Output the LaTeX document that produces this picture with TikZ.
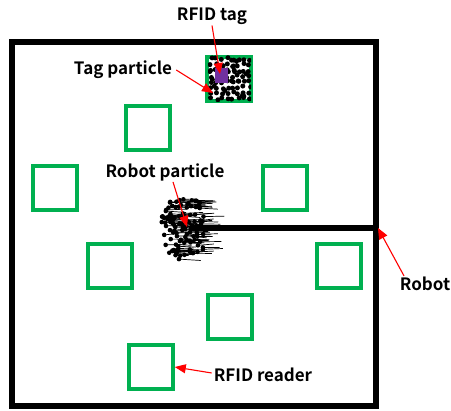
\documentclass[tikz,border=0pt]{standalone}
\usepackage{fontspec}
\setmainfont{Noto Sans CJK JP}[BoldFont={* Bold}]
\usetikzlibrary{arrows.meta,calc}
\definecolor{readergreen}{RGB}{0,176,80}
\definecolor{tagpurple}{RGB}{112,48,160}
\definecolor{arrowred}{RGB}{255,0,0}
\tikzset{
  wall/.style={line width=6pt},
  reader/.style={draw=readergreen, line width=3.5pt, minimum size=44pt, inner sep=0pt},
  lbl/.style={font=\bfseries\fontsize{17}{19}\selectfont, inner sep=1pt},
  pointer/.style={draw=arrowred, line width=1.1pt, -{Triangle[length=11pt,width=9pt]}},
  dot/.style={fill=black},
}
\begin{document}
\begin{tikzpicture}[x=1pt,y=-1pt]
\useasboundingbox (0,0) rectangle (451,411);
\fill[white] (0,0) rectangle (451,411);
% room walls
\draw[wall] (12,42) rectangle (376,406);
% RFID readers
\node[reader] (tagbox) at (229,79) {};
\node[reader] (r1) at (148,128) {};
\node[reader] (r2) at (55,188) {};
\node[reader] (r3) at (285,188) {};
\node[reader] (r4) at (110,266) {};
\node[reader] (r5) at (339,266) {};
\node[reader] (r6) at (230,317) {};
\node[reader] (r7) at (151,367) {};
% tag particles spread over the tag area (jittered grid)
\pgfmathsetseed{7}
\begin{scope}
\clip (208,56) rectangle (251,102);
\foreach \i in {0,...,7}{
  \foreach \j in {0,...,7}{
    \pgfmathsetmacro{\px}{211+5.5*\i+3*rnd-1.5}
    \pgfmathsetmacro{\py}{59+5.7*\j+3*rnd-1.5}
    \fill[dot] (\px,\py) circle (2.5);
  }
}
\foreach \i in {1,...,14}{
  \pgfmathsetmacro{\px}{209+42*rnd}
  \pgfmathsetmacro{\py}{57+44*rnd}
  \fill[dot] (\px,\py) circle (2.5);
}
\end{scope}
\fill[tagpurple] (215,68) rectangle (228,83);
\coordinate (tagpos) at (220,74);
\coordinate (tagpart) at (213,93);
% robot body
\draw[line width=6pt] (190,228) -- (376,228);
\coordinate (robotend) at (378,228);
% robot particles with heading tails
\pgfmathsetseed{11}
\foreach \i in {1,...,115}{
  \pgfmathsetmacro{\ang}{360*rnd}
  \pgfmathsetmacro{\rr}{sqrt(rnd)}
  \pgfmathsetmacro{\tl}{13+9*rnd}
  \pgfmathsetmacro{\dy}{-1.5+3*rnd}
  \draw[line width=0.7pt] ($(184,228)+({26*\rr*cos(\ang)},{32*\rr*sin(\ang)})$) coordinate (p) -- ++(\tl,\dy);
  \fill[dot] (p) circle (2.3);
}
\coordinate (robotpart) at (187,227);
% labels
\node[lbl] (ltag) at (212,16) {RFID tag};
\node[lbl] (ltagp) at (123,70) {Tag particle};
\node[lbl] (lrobp) at (165,172) {Robot particle};
\node[lbl] (lrob) at (425,284) {Robot};
\node[lbl] (lread) at (263,375) {RFID reader};
% pointers
\draw[pointer] (ltag.south) -- (tagpos);
\draw[pointer] (ltagp.east) ++(3,0) -- (tagpart);
\draw[pointer] ([xshift=8pt]lrobp.south) -- (robotpart);
\draw[pointer] ([xshift=-21pt]lrob.north) -- (robotend);
\draw[pointer] (lread.west) ++(-1,-2) -- (r7.east);
\end{tikzpicture}
\end{document}
